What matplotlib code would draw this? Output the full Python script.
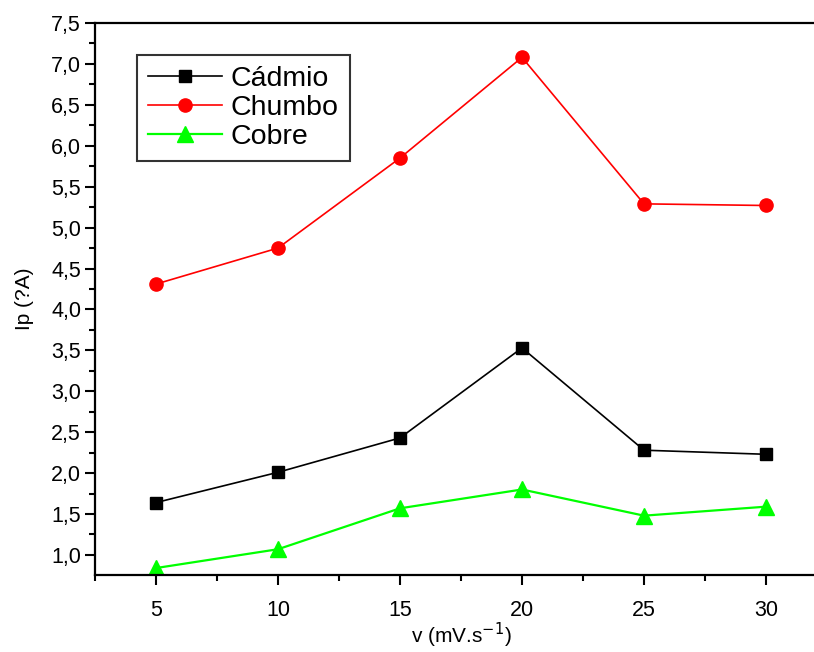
import numpy as np
import matplotlib; matplotlib.use("Agg")
import matplotlib.pyplot as plt
from matplotlib.ticker import MultipleLocator, FuncFormatter

plt.rcParams['font.family'] = ['Liberation Sans', 'DejaVu Sans']

v = [5, 10, 15, 20, 25, 30]
cadmio = [1.64, 2.01, 2.43, 3.53, 2.28, 2.23]
chumbo = [4.31, 4.75, 5.85, 7.08, 5.29, 5.27]
cobre = [0.84, 1.07, 1.57, 1.80, 1.48, 1.59]

fig = plt.figure(figsize=(8.14, 6.52), dpi=100)
ax = fig.add_axes([95/814, 77/652, 732/814, 552/652])

ax.plot(v, cadmio, "-s", color="black", lw=1.2, ms=8.5, label="Cádmio")
ax.plot(v, chumbo, "-o", color="red", lw=1.2, ms=9.5, label="Chumbo")
ax.plot(v, cobre, "-^", color="#00ff00", lw=1.6, ms=11, label="Cobre")

ax.set_xlim(2.5, 32.5)
ax.set_ylim(0.755, 7.5)
ax.set_xticks(v)
ax.xaxis.set_minor_locator(MultipleLocator(2.5))
ax.yaxis.set_major_locator(MultipleLocator(0.5))
ax.yaxis.set_minor_locator(MultipleLocator(0.25))
ax.yaxis.set_major_formatter(FuncFormatter(lambda y, p: f"{y:.1f}".replace(".", ",")))
ax.tick_params(which="major", direction="out", length=7, width=1.5, labelsize=15.5)
ax.tick_params(which="minor", direction="out", length=4, width=1.5)
ax.tick_params(axis="y", pad=3)
ax.tick_params(axis="x", pad=11)
for s in ax.spines.values():
    s.set_linewidth(1.6)

ax.set_ylabel("Ip (?A)", fontsize=15, labelpad=12)
ax.set_xlabel("v (mV.s$^{-1}$)", fontsize=15, labelpad=0)

leg = ax.legend(loc="upper left", bbox_to_anchor=(137/814, 1-55/652),
                bbox_transform=fig.transFigure, fontsize=20.5, frameon=True,
                fancybox=False, edgecolor="black", handlelength=2.6,
                handletextpad=0.3, labelspacing=0.1, borderpad=0.4,
                borderaxespad=0)
leg.get_frame().set_linewidth(1.5)

fig.savefig("out.png", dpi=100)
